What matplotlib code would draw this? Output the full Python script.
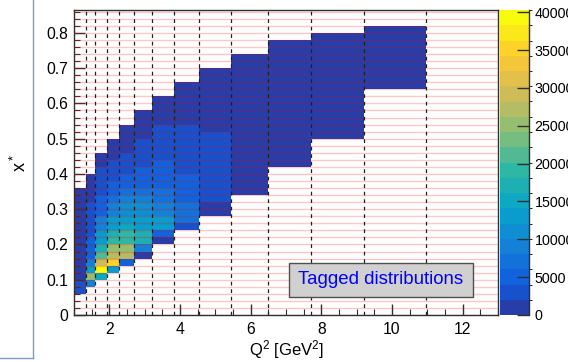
import numpy as np
import matplotlib
matplotlib.use("Agg")
import matplotlib.pyplot as plt
from matplotlib.colors import LinearSegmentedColormap, ListedColormap, BoundaryNorm
from matplotlib.lines import Line2D
from matplotlib.patches import Rectangle

plt.rcParams['font.family'] = ['Liberation Sans', 'DejaVu Sans']

# Q2 bin edges [GeV^2] (dashed lines) and x* bin width
q2_edges = [1.0, 1.35, 1.6, 1.92, 2.27, 2.69, 3.2, 3.83, 4.55, 5.43, 6.48, 7.71, 9.2, 10.97]
xbin = 0.02
xmax_edge = 0.86

# lowest x* edge of every Q2 column, and the counts going up in x*
col_lo = [0.06, 0.08, 0.10, 0.12, 0.14, 0.16, 0.20, 0.24, 0.28, 0.34, 0.42, 0.50, 0.64]
col_counts = [
    [3000, 3000, 1000, 1000, 1000, 1000, 1000, 1000, 1000, 1000, 1000, 1000, 1000, 1000, 1000],
    [9000, 25000, 13000, 9000, 5000, 5000, 5000, 3000, 3000, 3000, 3000, 3000, 1000, 1000, 1000, 1000],
    [15000, 39500, 29000, 21000, 17000, 13000, 13000, 9000, 9000, 5000, 5000, 5000, 3000, 3000, 3000, 3000,
     1000, 1000],
    [13000, 35000, 27000, 25000, 19000, 17000, 13000, 13000, 9000, 9000, 7000, 5000, 5000, 3000, 3000, 3000,
     1000, 1000, 1000],
    [5000, 27000, 25000, 19000, 19000, 15000, 13000, 11000, 11000, 9000, 7000, 5000, 5000, 3000, 3000, 3000,
     1000, 1000, 1000, 1000],
    [1000, 9000, 17000, 17000, 13000, 13000, 11000, 11000, 9000, 7000, 5000, 5000, 5000, 3000, 3000, 3000,
     3000, 1000, 1000, 1000, 1000],
    [1000, 5000, 13000, 13000, 9000, 9000, 7000, 7000, 5000, 5000, 5000, 5000, 3000, 3000, 3000, 3000,
     3000, 1000, 1000, 1000, 1000],
    [3000, 7000, 7000, 7000, 5000, 5000, 5000, 5000, 3000, 3000, 3000, 3000, 3000, 3000, 3000, 1000,
     1000, 1000, 1000, 1000, 1000],
    [1000, 1000, 3000, 3000, 3000, 3000, 3000, 3000, 3000, 3000, 3000, 3000, 1000, 1000, 1000, 1000,
     1000, 1000, 1000, 1000, 1000],
    [1000] * 20,
    [1000] * 18,
    [1000] * 15,
    [1000] * 9,
]

zmax = 40300
ncont = 20
cb_ticks = [0, 5000, 10000, 15000, 20000, 25000, 30000, 35000, 40000]
x_ticks = [2, 4, 6, 8, 10, 12]
y_ticks = [0, 0.1, 0.2, 0.3, 0.4, 0.5, 0.6, 0.7, 0.8]

# ROOT kBird palette, cut into 20 contour colours
stops = [0, 0.125, 0.25, 0.375, 0.5, 0.625, 0.75, 0.875, 1]
red = [0.2082, 0.0592, 0.0780, 0.0232, 0.1802, 0.5301, 0.8186, 0.9956, 0.9764]
green = [0.1664, 0.3599, 0.5041, 0.6419, 0.7178, 0.7492, 0.7328, 0.7862, 0.9832]
blue = [0.5293, 0.8684, 0.8385, 0.7914, 0.6425, 0.4662, 0.3499, 0.1968, 0.0539]
bird = LinearSegmentedColormap.from_list("bird", list(zip(stops, zip(red, green, blue))))
cmap = ListedColormap([bird((k + 0.99) / ncont) for k in range(ncont)])
norm = BoundaryNorm(np.linspace(0, zmax, ncont + 1), ncont)

x_edges = np.round(np.arange(0, xmax_edge + xbin / 2, xbin), 2)
Z = np.full((len(x_edges) - 1, len(q2_edges) - 1), np.nan)
for j, (lo, vals) in enumerate(zip(col_lo, col_counts)):
    i0 = int(round(lo / xbin))
    Z[i0:i0 + len(vals), j] = vals

fig = plt.figure(figsize=(5.68, 3.62), dpi=100)
ax = fig.add_axes([74 / 568, 47 / 362, 424 / 568, 305 / 362])
cax = fig.add_axes([500 / 568, 47 / 362, 29 / 568, 305 / 362])

mesh = ax.pcolormesh(q2_edges, x_edges, np.ma.masked_invalid(Z), cmap=cmap, norm=norm)

for xe in x_edges:
    ax.axhline(xe, color=(1, 0, 0, 0.22), lw=1.0, zorder=3)
for qe in q2_edges[1:]:
    ax.axvline(qe, color='#202020', lw=0.9, ls=(0, (3, 3)), zorder=4)

ax.set_xlim(1, 13)
ax.set_ylim(0, 0.865)
ax.set_xticks(x_ticks)
ax.set_xticks(np.arange(1, 13.01, 0.5), minor=True)
ax.set_yticks(y_ticks)
ax.set_yticks(np.arange(0, 0.865, 0.02), minor=True)
ax.set_yticklabels([f"{t:g}" for t in y_ticks])
ax.tick_params(which='both', direction='in', top=False, right=False, labelsize=11.3, color='#303030')
ax.tick_params(which='major', length=8, width=1)
ax.tick_params(which='minor', length=4, width=0.8)
ax.tick_params(axis='x', pad=5)
ax.tick_params(axis='y', pad=4)
for s in ax.spines.values():
    s.set_color('#303030')
    s.set_linewidth(1)
ax.set_xlabel(r'$\mathregular{Q^2}$ [GeV$\mathregular{^2}$]', fontsize=12, labelpad=1)
ax.set_ylabel(r'$\mathregular{x^*}$', fontsize=13, labelpad=12)

cb = fig.colorbar(mesh, cax=cax, ticks=cb_ticks)
cb.outline.set_visible(False)
cax.set_ylim(0, zmax)
cax.tick_params(direction='in', length=9, width=1, labelsize=10.3, color='#303030', pad=4)
cax.plot([1, 1], [0, 1], transform=cax.transAxes, color='#303030', lw=1, clip_on=False)

# text box
fig.patches.append(Rectangle((289 / 568, 65 / 362), 184 / 568, 34 / 362, transform=fig.transFigure,
                             facecolor='#d0d0d0', edgecolor='#505050', lw=1, zorder=5))
fig.text(381 / 568, 82 / 362, 'Tagged distributions', color='#0000ff', fontsize=13.4,
         ha='center', va='center', zorder=6)

# neighbouring panel border
fig.add_artist(Line2D([33 / 568, 33 / 568], [4 / 362, 1], transform=fig.transFigure, color='#7a9ad6', lw=1))
fig.add_artist(Line2D([0, 33 / 568], [4 / 362, 4 / 362], transform=fig.transFigure, color='#7a9ad6', lw=1))

fig.savefig("out.png", dpi=100)
